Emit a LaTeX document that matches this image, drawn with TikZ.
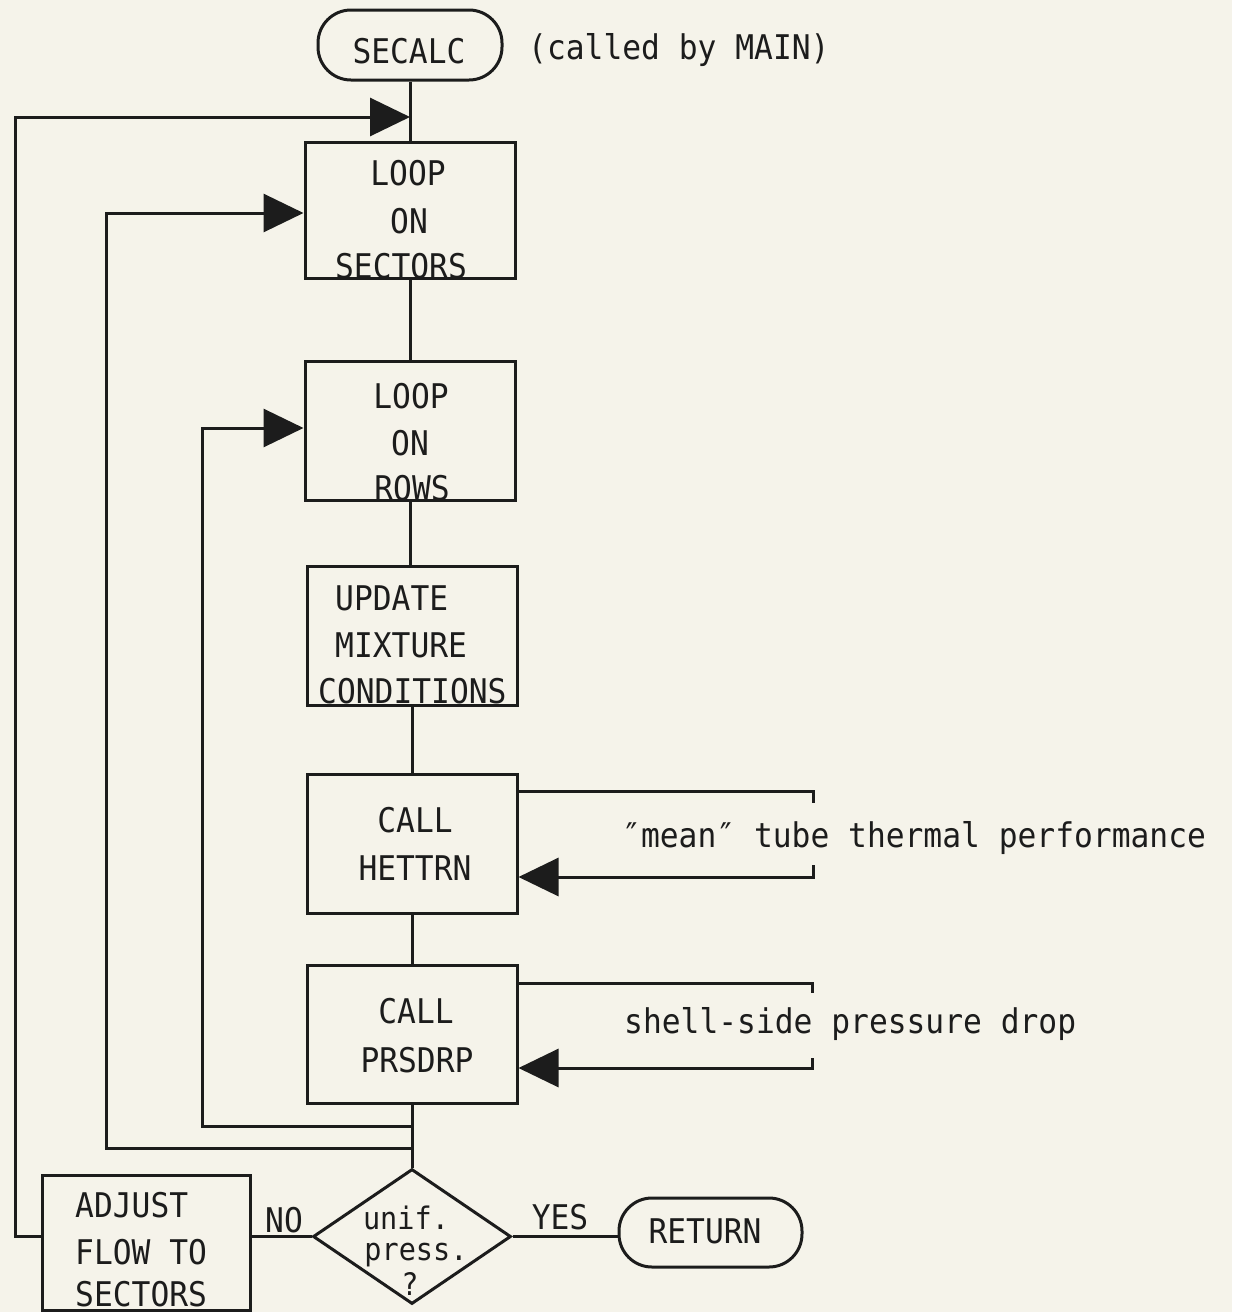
\documentclass[tikz,border=0pt]{standalone}
\usepackage{fontspec}
\newfontfamily\plotfont[FakeStretch=0.92]{DejaVu Sans Mono}
\usetikzlibrary{arrows.meta,shapes.geometric}
\definecolor{paper}{RGB}{245,243,234}
\definecolor{ink}{RGB}{28,28,28}
\begin{document}
\begin{tikzpicture}[x=1pt,y=-1pt,
  box/.style={draw=ink, line width=3pt, rectangle, inner sep=0pt},
  term/.style={draw=ink, line width=3pt, rectangle, rounded corners=33pt, inner sep=0pt},
  decision/.style={draw=ink, line width=3pt, diamond, inner sep=0pt},
  txt/.style={inner sep=0pt, font=\plotfont\fontsize{34}{40}\selectfont, text=ink, anchor=base},
  txtw/.style={txt, anchor=base west},
  txts/.style={txt, font=\plotfont\fontsize{31}{36}\selectfont},
  conn/.style={draw=ink, line width=3pt},
  arr/.style={conn, -{Triangle[length=40pt,width=38pt]}}]
\useasboundingbox[fill=paper] (0,0) rectangle (1232,1312);

% shapes
\node[term, minimum width=184pt, minimum height=70pt] (secalc) at (410,45) {};
\node[box, minimum width=210pt, minimum height=136pt] (sect) at (410,210) {};
\node[box, minimum width=210pt, minimum height=139pt] (rows) at (410,430.5) {};
\node[box, minimum width=210pt, minimum height=139pt] (upd) at (412,635.5) {};
\node[box, minimum width=210pt, minimum height=139pt] (het) at (412,843.5) {};
\node[box, minimum width=210pt, minimum height=138pt] (prs) at (412,1034) {};
\node[decision, minimum width=198pt, minimum height=135pt] (dia) at (412,1236.5) {};
\node[box, minimum width=208pt, minimum height=135pt] (adj) at (146,1242.5) {};
\node[term, minimum width=183pt, minimum height=69pt] (ret) at (710.5,1232.5) {};

% texts
\node[txt] (tsecalc) at (409,63) {SECALC};
\node[txtw] (tcalled) at (528,59) {(called by MAIN)};
\node[txt] (ts1) at (408,185) {LOOP};
\node[txt] (ts2) at (409,233) {ON};
\node[txt] (ts3) at (401,278) {SECTORS};
\node[txt] (tr1) at (411,408) {LOOP};
\node[txt] (tr2) at (410,455) {ON};
\node[txt] (tr3) at (412,500) {ROWS};
\node[txtw] (tu1) at (335,610) {UPDATE};
\node[txtw] (tu2) at (335,657) {MIXTURE};
\node[txtw] (tu3) at (318,703) {CONDITIONS};
\node[txt] (th1) at (415,832) {CALL};
\node[txt] (th2) at (415,880) {HETTRN};
\node[txt] (tp1) at (416,1023) {CALL};
\node[txt] (tp2) at (417,1072) {PRSDRP};
\node[txtw] (ta1) at (75,1217) {ADJUST};
\node[txtw] (ta2) at (75,1264) {FLOW TO};
\node[txtw] (ta3) at (75,1306) {SECTORS};
\node[txts] (td1) at (406,1229) {unif.};
\node[txts] (td2) at (416,1260) {press.};
\node[txts] (td3) at (410,1295) {?};
\node[txt] (tno) at (284,1232) {NO};
\node[txt] (tyes) at (560,1229) {YES};
\node[txt] (tret) at (705,1243) {RETURN};
\node[txtw] (tmean) at (622,847) {″mean″ tube thermal performance};
\node[txtw] (tshell) at (624,1033) {shell-side pressure drop};

% junction points
\coordinate (j1) at (15,117 -| sect.north);
\coordinate (j2) at (0,1148 -| dia.north);
\coordinate (j3) at (0,1126 -| dia.north);

% main flow
\draw[conn] (secalc.south) -- (sect.north);
\draw[conn] (sect.south) -- (rows.north);
\draw[conn] (rows.south) -- (rows.south |- upd.north);
\draw[conn] (upd.south) -- (het.north);
\draw[conn] (het.south) -- (prs.north);
\draw[conn] (prs.south) -- (dia.north);
\draw[conn] (adj.east |- dia.west) -- (dia.west);
\draw[conn] (dia.east) -- (ret.west |- dia.east);

% loops
\draw[arr] (adj.west |- dia.west) -- (15,1236.5) -- (15,117) -- (j1);
\draw[arr] (j2) -- (106,1148) -- (106,213) -- (106,213 -| sect.west);
\draw[arr] (j3) -- (202,1126) -- (202,428) -- (202,428 -| rows.west);

% subroutine calls
\draw[conn] (0,791 -| het.east) -- (813,791) -- (813,803);
\draw[arr] (813,865) -- (813,877) -- (0,877 -| het.east);
\draw[conn] (0,983 -| prs.east) -- (812,983) -- (812,993);
\draw[arr] (812,1058) -- (812,1068) -- (0,1068 -| prs.east);
\end{tikzpicture}
\end{document}
